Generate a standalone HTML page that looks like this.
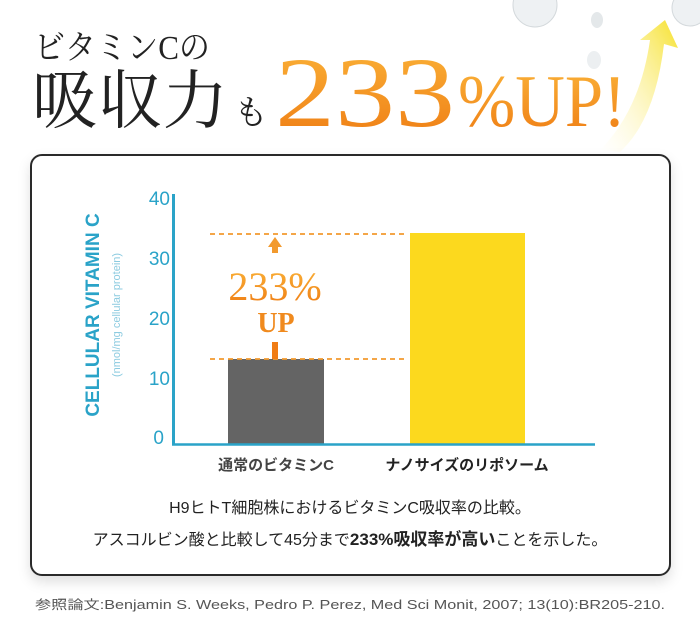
<!DOCTYPE html>
<html><head><meta charset="utf-8"><style>
html,body{margin:0;padding:0;background:#fff;}
body{width:700px;height:629px;position:relative;overflow:hidden;font-family:"Liberation Sans","Noto Sans CJK JP",sans-serif;}
</style></head><body>
<svg width="700" height="629" viewBox="0 0 700 629" xmlns="http://www.w3.org/2000/svg" style="position:absolute;left:0;top:0">
<defs>
<linearGradient id="og" x1="0" y1="0" x2="0" y2="1"><stop offset="0" stop-color="#fbb53a"/><stop offset="1" stop-color="#ee7a12"/></linearGradient>
<linearGradient id="ar" x1="0" y1="1" x2="1" y2="0"><stop offset="0" stop-color="#fff7c8" stop-opacity="0"/><stop offset="1" stop-color="#f6e12c"/></linearGradient>
<filter id="sh" x="-5%" y="-5%" width="110%" height="115%"><feDropShadow dx="0" dy="6" stdDeviation="6" flood-color="#000" flood-opacity="0.12"/></filter>
</defs>
<circle cx="535" cy="5" r="22" fill="#eef1f3" stroke="#d4d9dc"/>
<circle cx="690" cy="8" r="18" fill="#eef1f3" stroke="#d4d9dc"/>
<ellipse cx="597" cy="20" rx="6" ry="8" fill="#e4e8ea"/>
<ellipse cx="594" cy="60" rx="7" ry="9" fill="#eceff1"/>
<path d="M600 150 Q640 110 650 40 L640 40 L665 20 L678 48 L664 44 Q655 120 620 152 Z" fill="url(#ar)"/>
<text x="34" y="59" font-family="'Liberation Serif','Noto Serif CJK SC',serif" font-size="34" fill="#222" textLength="176" lengthAdjust="spacingAndGlyphs">ビタミンCの</text>
<text x="32" y="123" font-family="'Liberation Serif','Noto Serif CJK SC',serif" font-size="64" fill="#222" textLength="196" lengthAdjust="spacingAndGlyphs">吸収力</text>
<text x="234" y="124" font-family="'Liberation Serif','Noto Serif CJK SC',serif" font-size="34" fill="#222">も</text>
<text x="275" y="126" font-family="'Liberation Serif',serif" font-size="100" fill="url(#og)" textLength="180" lengthAdjust="spacingAndGlyphs">233</text>
<text x="458" y="126" font-family="'Liberation Serif',serif" font-size="74" fill="url(#og)" textLength="168" lengthAdjust="spacingAndGlyphs">%UP!</text>
<rect x="31" y="155" width="639" height="420" rx="11" fill="#fff" stroke="#2a2a2a" stroke-width="2" filter="url(#sh)"/>
<g fill="#2aa3c8" font-size="19" text-anchor="end">
<text x="170" y="205">40</text><text x="170" y="265">30</text><text x="170" y="325">20</text><text x="170" y="385">10</text><text x="164" y="444">0</text>
</g>
<text transform="translate(99,315) rotate(-90)" text-anchor="middle" font-size="19" fill="#2aa3c8" font-weight="bold">CELLULAR VITAMIN C</text>
<text transform="translate(120,315) rotate(-90)" text-anchor="middle" font-size="11" fill="#8ccbe0">(nmol/mg cellular protein)</text>
<rect x="228" y="359" width="96" height="86" fill="#646464"/>
<rect x="410" y="233" width="115" height="212" fill="#fcd91e"/>
<line x1="173.5" y1="194" x2="173.5" y2="445" stroke="#2aa3c8" stroke-width="3"/>
<line x1="172" y1="444.5" x2="595" y2="444.5" stroke="#2aa3c8" stroke-width="2.5"/>
<g stroke="#f29a2e" stroke-width="1.8" stroke-dasharray="5,4">
<line x1="210" y1="234" x2="406" y2="234"/><line x1="210" y1="359" x2="406" y2="359"/>
</g>
<path d="M268 247 L275 237 L282 247 Z M272 247 h6 v6 h-6 Z" fill="#f29a2e"/>
<rect x="272" y="342" width="6" height="17" fill="#f07c14"/>
<text x="275" y="300" text-anchor="middle" font-family="'Liberation Serif',serif" font-size="40" fill="url(#og)">233%</text>
<text x="276" y="332" text-anchor="middle" font-family="'Liberation Serif',serif" font-size="28" font-weight="bold" fill="#f08a1e">UP</text>
<text x="276" y="470" text-anchor="middle" font-size="15" font-weight="bold" fill="#444">通常のビタミンC</text>
<text x="467" y="470" text-anchor="middle" font-size="15" font-weight="bold" fill="#222">ナノサイズのリポソーム</text>
<text x="350" y="513" text-anchor="middle" font-size="16" fill="#222">H9ヒトT細胞株におけるビタミンC吸収率の比較。</text>
<text x="350" y="545" text-anchor="middle" font-size="16" fill="#222">アスコルビン酸と比較して45分まで<tspan font-weight="bold" font-size="17">233%吸収率が高い</tspan>ことを示した。</text>
<text x="350" y="609" text-anchor="middle" font-size="12.5" fill="#555" textLength="630" lengthAdjust="spacingAndGlyphs">参照論文:Benjamin S. Weeks, Pedro P. Perez, Med Sci Monit, 2007; 13(10):BR205-210.</text>
</svg>
</body></html>
